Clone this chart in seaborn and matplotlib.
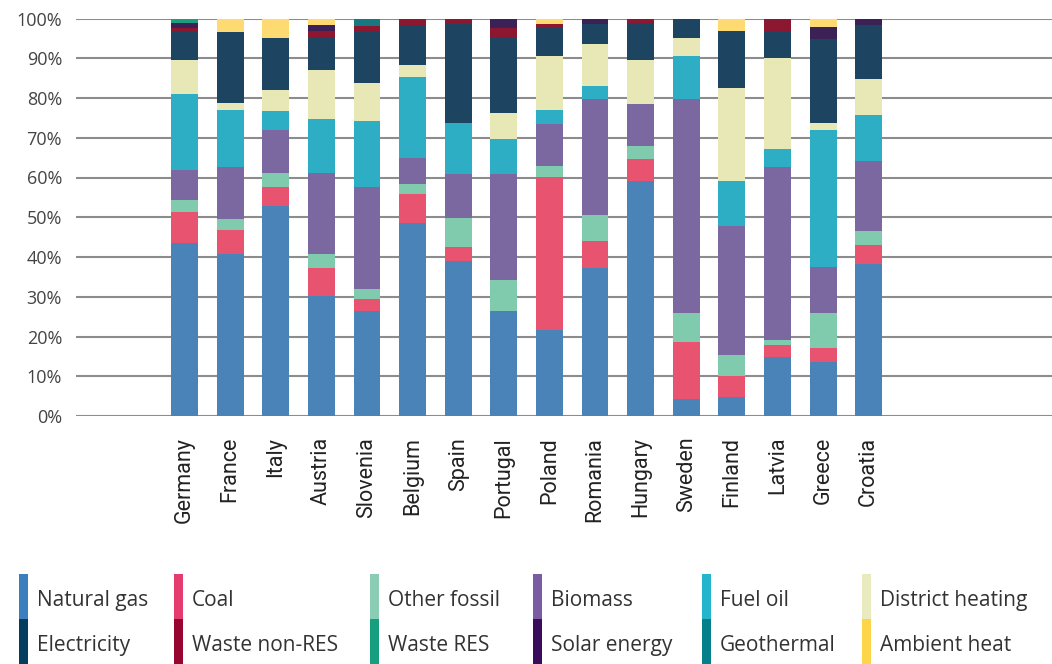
import numpy as np
import pandas as pd
import matplotlib
matplotlib.use("Agg")
import matplotlib.pyplot as plt
from matplotlib.patches import Rectangle
import seaborn as sns

countries = ["Germany", "France", "Italy", "Austria", "Slovenia", "Belgium", "Spain",
             "Portugal", "Poland", "Romania", "Hungary", "Sweden", "Finland", "Latvia",
             "Greece", "Croatia"]

natural_gas      = [43.5, 40.8, 52.8, 30.2, 26.3, 48.5, 38.9, 26.3, 21.6, 37.2, 59.1, 4.2, 4.7, 14.8, 13.6, 38.3]
coal             = [7.8, 5.9, 4.7, 7.0, 3.1, 7.3, 3.5, 0.0, 38.5, 6.8, 5.5, 14.3, 5.3, 3.0, 3.4, 4.6]
other_fossil     = [3.0, 2.8, 3.6, 3.5, 2.5, 2.5, 7.3, 7.8, 2.7, 6.5, 3.3, 7.3, 5.3, 1.3, 8.8, 3.6]
biomass          = [7.5, 13.1, 10.8, 20.4, 25.6, 6.5, 11.1, 26.7, 10.6, 29.2, 10.5, 53.9, 32.4, 43.5, 11.6, 17.6]
fuel_oil         = [19.2, 14.3, 4.8, 13.6, 16.7, 20.4, 12.9, 8.8, 3.5, 3.3, 0.0, 10.8, 11.4, 4.5, 34.5, 11.5]
district_heating = [8.5, 1.8, 5.3, 12.3, 9.5, 3.0, 0.0, 6.6, 13.6, 10.5, 11.1, 4.6, 23.4, 22.9, 1.8, 9.1]
electricity      = [7.3, 17.9, 13.1, 8.1, 12.9, 10.1, 24.9, 18.9, 7.3, 5.1, 9.3, 4.9, 14.3, 6.8, 21.1, 13.6]
waste_non_res    = [0.8, 0.0, 0.0, 1.7, 1.5, 1.7, 1.4, 2.5, 0.8, 0.0, 1.2, 0.0, 0.0, 3.2, 0.0, 0.0]
solar_energy     = [1.2, 0.0, 0.0, 1.5, 0.0, 0.0, 0.0, 2.4, 0.0, 1.4, 0.0, 0.0, 0.0, 0.0, 3.0, 1.7]
waste_res        = [1.2, 0.0, 0.0, 0.0, 0.0, 0.0, 0.0, 0.0, 0.0, 0.0, 0.0, 0.0, 0.0, 0.0, 0.0, 0.0]
geothermal       = [0.0, 0.0, 0.0, 0.0, 1.9, 0.0, 0.0, 0.0, 0.0, 0.0, 0.0, 0.0, 0.0, 0.0, 0.0, 0.0]
ambient_heat     = [0.0, 3.4, 4.9, 1.7, 0.0, 0.0, 0.0, 0.0, 1.4, 0.0, 0.0, 0.0, 3.2, 0.0, 2.2, 0.0]

# stacking order (bottom -> top)
stack = [
    ("Natural gas", natural_gas, "#4A83B7"),
    ("Coal", coal, "#E8546F"),
    ("Other fossil", other_fossil, "#80CBAD"),
    ("Biomass", biomass, "#7C68A0"),
    ("Fuel oil", fuel_oil, "#2EAEC5"),
    ("District heating", district_heating, "#E8E8B6"),
    ("Electricity", electricity, "#1D4461"),
    ("Waste non-RES", waste_non_res, "#8B1730"),
    ("Solar energy", solar_energy, "#3C2157"),
    ("Waste RES", waste_res, "#1E9E7C"),
    ("Geothermal", geothermal, "#187880"),
    ("Ambient heat", ambient_heat, "#FDDA72"),
]

legend_order = [
    ["Natural gas", "Coal", "Other fossil", "Biomass", "Fuel oil", "District heating"],
    ["Electricity", "Waste non-RES", "Waste RES", "Solar energy", "Geothermal", "Ambient heat"],
]
legend_colors = {
    "Natural gas": "#3A80BE", "Coal": "#E43D6D", "Other fossil": "#8BCDB4",
    "Biomass": "#7B5BA3", "Fuel oil": "#22B5CB", "District heating": "#E9EAC0",
    "Electricity": "#053D5E", "Waste non-RES": "#96062E", "Waste RES": "#169E7F",
    "Solar energy": "#3A0D5C", "Geothermal": "#05808A", "Ambient heat": "#FCD54A",
}

sns.set_style("white")
W, H = 1052, 664
fig = plt.figure(figsize=(W / 100, H / 100), dpi=100)
ax = fig.add_axes([76 / W, (H - 416) / H, 1 - 76 / W, (416 - 18.5) / H])

cum = np.zeros(len(countries))
layers = []
for name, vals, col in stack:
    cum = cum + np.array(vals)
    layers.append((name, cum.copy(), col))

for name, top, col in reversed(layers):
    df = pd.DataFrame({"country": countries, "value": top})
    sns.barplot(data=df, x="country", y="value", order=countries, color=col,
                saturation=1, width=0.59, linewidth=0, errorbar=None, ax=ax, zorder=3)

ax.set_xlim(-2.38, 19.02)
ax.set_ylim(0, 100)
ax.set_yticks(np.arange(0, 101, 10))
ax.set_yticklabels([f"{v}%" for v in range(0, 101, 10)],
                   fontfamily="Open Sans", fontsize=13, color="#444444")
ax.set_xticks(range(len(countries)))
ax.set_xticklabels(countries, rotation=90, fontfamily="Roboto", fontweight="normal",
                   fontsize=15.5, color="#222222")
ax.tick_params(axis="x", length=0, pad=15)
ax.tick_params(axis="y", length=0, pad=10)
ax.set_xlabel("")
ax.set_ylabel("")
for s in ax.spines.values():
    s.set_visible(False)
ax.yaxis.grid(True, color="#8c8c8c", linewidth=1.5, zorder=0)
ax.xaxis.grid(False)
ax.set_axisbelow(True)

# legend: two rows x six columns with tall colour strips
col_x = [19, 174, 370, 533, 702, 862]
row_y = [(574, 619), (619, 664)]
for r, row in enumerate(legend_order):
    y0, y1 = row_y[r]
    for c, name in enumerate(row):
        x = col_x[c]
        fig.add_artist(Rectangle((x / W, 1 - y1 / H), 9 / W, (y1 - y0) / H,
                                 transform=fig.transFigure, color=legend_colors[name],
                                 linewidth=0))
        fig.text((x + 18) / W, 1 - ((y0 + y1) / 2 + 4) / H, name,
                 fontfamily="Open Sans", fontsize=15, color="#333333",
                 ha="left", va="center")

fig.savefig("out.png", dpi=100)
